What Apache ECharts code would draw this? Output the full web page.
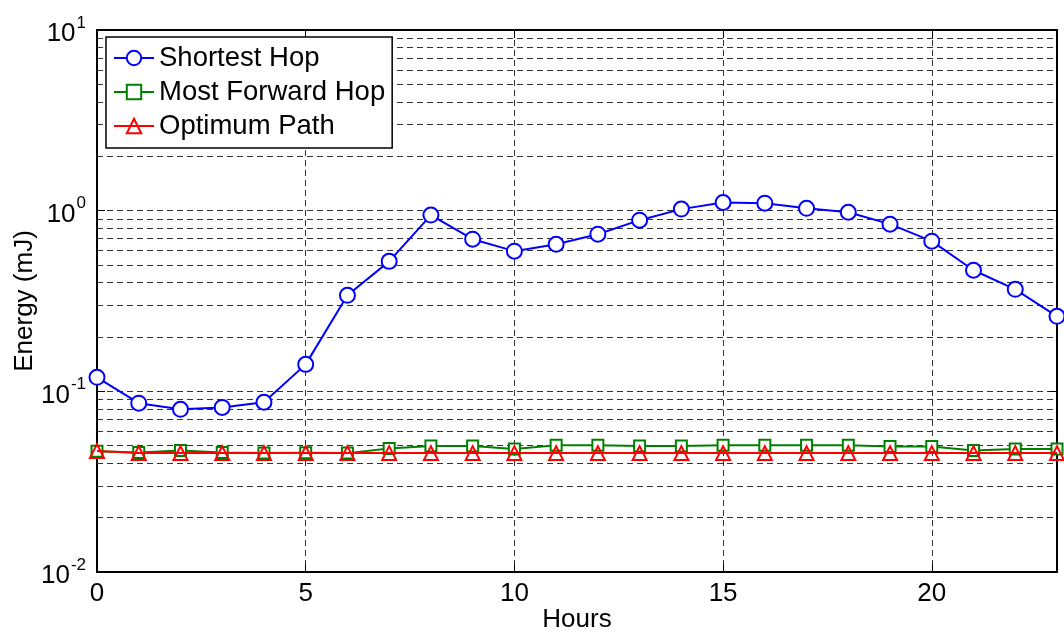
<!DOCTYPE html>
<html><head><meta charset="utf-8">
<script src="https://cdn.jsdelivr.net/npm/echarts@6/dist/echarts.min.js"></script>
<style>html,body{margin:0;padding:0;background:#fff}#c{width:1064px;height:633px}</style>
</head><body><div id="c"></div>
<script>
const hours = [0,1,2,3,4,5,6,7,8,9,10,11,12,13,14,15,16,17,18,19,20,21,22,23];
const shortestHop = [0.1195,0.086,0.0795,0.0815,0.087,0.141,0.34,0.524,0.945,0.695,0.597,0.652,0.741,0.886,1.02,1.11,1.10,1.03,0.98,0.842,0.678,0.468,0.367,0.26];
const mostForwardHop = [0.0466,0.0458,0.0470,0.0458,0.0455,0.0457,0.0455,0.0483,0.0498,0.0498,0.048,0.0503,0.0503,0.0498,0.0498,0.0503,0.0503,0.0503,0.0503,0.0495,0.0495,0.047,0.048,0.048];
const optimumPath = [0.0467,0.0455,0.0455,0.0455,0.0455,0.0455,0.0455,0.0455,0.0455,0.0455,0.0455,0.0455,0.0455,0.0455,0.0455,0.0455,0.0455,0.0455,0.0455,0.0455,0.0455,0.0455,0.0455,0.0455];
const minorGrid = [0.02,0.03,0.04,0.05,0.06,0.07,0.08,0.09,0.2,0.3,0.4,0.5,0.6,0.7,0.8,0.9,2,3,4,5,6,7,8,9];
const seriesNames = ['Shortest Hop','Most Forward Hop','Optimum Path'];

const FONT = 'Liberation Sans, Arial, sans-serif';
const FS = 26;
const dash = [6,4];
const gridColor = '#333';
const chart = echarts.init(document.getElementById('c'));
const pair = arr => arr.map((v,i)=>[hours[i], v]);

chart.setOption({
  animation: false,
  backgroundColor: '#fff',
  grid: {left: 97, right: 7, top: 30, bottom: 61, containLabel: false, outerBoundsMode: 'none'},
  legend: {
    orient: 'vertical', left: 106, top: 37, z: 50,
    data: seriesNames,
    backgroundColor: '#fff', borderColor: '#000', borderWidth: 1.5,
    padding: [7, 7, 8, 7], itemGap: 6, itemWidth: 40, itemHeight: 18,
    textStyle: {fontFamily: FONT, fontSize: 27.5, color: '#000'}
  },
  xAxis: [{
    type: 'value', min: 0, max: 23, interval: 5,
    name: 'Hours', nameLocation: 'middle', nameGap: 35, nameMoveOverlap: false,
    nameTextStyle: {fontFamily: FONT, fontSize: FS, color: '#000'},
    axisLine: {show: true, onZero: false, lineStyle: {color: '#000', width: 2}},
    axisTick: {inside: true, length: 8, lineStyle: {color: '#000'}},
    axisLabel: {fontFamily: FONT, fontSize: FS, color: '#000', margin: 9, showMaxLabel: false},
    splitLine: {show: true, lineStyle: {type: dash, color: gridColor, width: 1}}
  },{
    type: 'value', min: 0, max: 23, interval: 5, position: 'top',
    axisLine: {show: true, onZero: false, lineStyle: {color: '#000', width: 2}},
    axisTick: {inside: true, length: 8, lineStyle: {color: '#000'}},
    axisLabel: {show: false}, splitLine: {show: false}
  }],
  yAxis: [{
    type: 'log', logBase: 10, min: 0.01, max: 10,
    name: 'Energy (mJ)', nameLocation: 'middle', nameGap: 59, nameMoveOverlap: false,
    nameTextStyle: {fontFamily: FONT, fontSize: FS, color: '#000'},
    axisLine: {show: true, onZero: false, lineStyle: {color: '#000', width: 2}},
    axisTick: {inside: true, length: 8, lineStyle: {color: '#000'}},
    axisLabel: {
      margin: 11,
      formatter: v => '{b|10}{s|' + Math.round(Math.log10(v)) + '}',
      rich: {
        b: {fontFamily: FONT, fontSize: FS, color: '#000', padding: [8,0,0,0]},
        s: {fontFamily: FONT, fontSize: 17, color: '#000', padding: [0,0,14,1]}
      }
    },
    splitLine: {show: true, lineStyle: {type: dash, color: gridColor, width: 1}}
  },{
    type: 'log', logBase: 10, min: 0.01, max: 10, position: 'right',
    axisLine: {show: true, onZero: false, lineStyle: {color: '#000', width: 2}},
    axisTick: {inside: true, length: 8, lineStyle: {color: '#000'}},
    axisLabel: {show: false}, splitLine: {show: false}
  }],
  series: [
    {
      name: 'grid-minor', type: 'line', data: [], z: 1, silent: true,
      markLine: {
        silent: true, symbol: 'none', label: {show: false}, z: 1,
        lineStyle: {type: dash, color: gridColor, width: 1},
        data: minorGrid.map(v => ({yAxis: v}))
      }
    },
    {
      name: seriesNames[0], type: 'line', data: pair(shortestHop), z: 3,
      symbol: 'emptyCircle', symbolSize: 15,
      lineStyle: {color: '#0000ff', width: 2},
      itemStyle: {color: '#0000ff', borderColor: '#0000ff', borderWidth: 2}
    },
    {
      name: seriesNames[1], type: 'line', data: pair(mostForwardHop), z: 4,
      symbol: 'rect', symbolSize: 11,
      lineStyle: {color: '#008000', width: 2},
      itemStyle: {color: '#fff', borderColor: '#008000', borderWidth: 2}
    },
    {
      name: seriesNames[2], type: 'line', data: pair(optimumPath), z: 5,
      symbol: 'triangle', symbolSize: 14,
      lineStyle: {color: '#ff0000', width: 2},
      itemStyle: {color: 'rgba(255,255,255,0)', borderColor: '#ff0000', borderWidth: 2}
    }
  ]
});
</script>
</body></html>
